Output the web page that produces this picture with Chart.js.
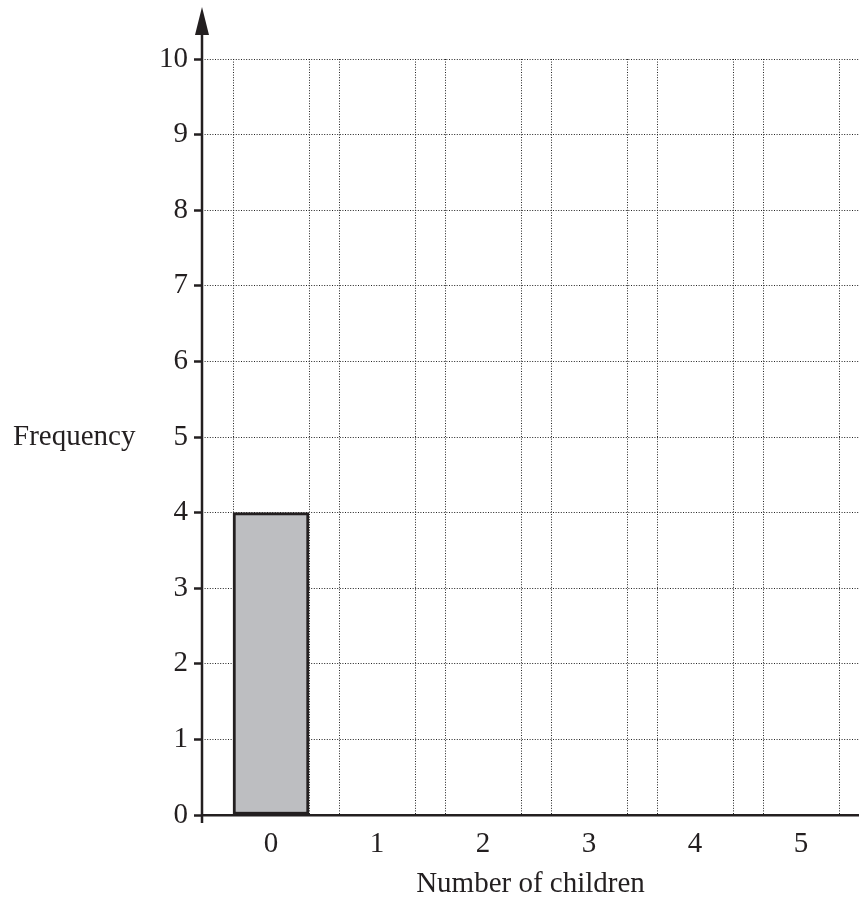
<!DOCTYPE html>
<html lang="en">
<head>
<meta charset="UTF-8">
<title>Number of children</title>
<script src="https://cdn.jsdelivr.net/npm/chart.js@4.4.1/dist/chart.umd.min.js"></script>
<style>
  body { margin: 0; background: #fff; }
  .wrapper { width: 859px; height: 903px; position: relative; }
</style>
</head>
<body>
<div class="wrapper">
  <canvas id="myChart"></canvas>
</div>
<script>
// data
const categories = [0, 1, 2, 3, 4, 5];
const frequency = [4, 0, 0, 0, 0, 0];
const yTicks = [0, 1, 2, 3, 4, 5, 6, 7, 8, 9, 10];
const xTitle = 'Number of children';
const yTitle = 'Frequency';

const ink = '#231f20';
const dots = '#222222';
const font = { family: '"Liberation Serif", "Times New Roman", serif', size: 29 };
const barFrac = 0.717; // bar width as share of one category

// tick positions: category centres (labels) and bar edges (dotted lines)
const xTickValues = [];
categories.forEach(function (c) {
  xTickValues.push(c - barFrac / 2, c, c + barFrac / 2);
});

const axisPlugin = {
  id: 'axisDecor',
  afterDatasetsDraw: function (chart) {
    const ctx = chart.ctx;
    const area = chart.chartArea;
    const y = chart.scales.y;
    const x0 = area.left;
    ctx.save();
    // vertical axis with arrow head
    ctx.strokeStyle = ink;
    ctx.lineWidth = 2.5;
    ctx.beginPath();
    ctx.moveTo(x0, y.getPixelForValue(0) + 8);
    ctx.lineTo(x0, area.top - 26);
    ctx.stroke();
    ctx.fillStyle = ink;
    ctx.beginPath();
    ctx.moveTo(x0, area.top - 52);
    ctx.lineTo(x0 - 7, area.top - 24);
    ctx.lineTo(x0 + 7, area.top - 24);
    ctx.closePath();
    ctx.fill();
    // horizontal y title
    ctx.font = font.size + 'px ' + font.family;
    ctx.textAlign = 'left';
    ctx.textBaseline = 'middle';
    ctx.fillText(yTitle, 13, y.getPixelForValue(5));
    ctx.restore();
  }
};

const ctx = document.getElementById('myChart').getContext('2d');
const chart = new Chart(ctx, {
  type: 'bar',
  data: {
    datasets: [{
      label: yTitle,
      data: categories.map(function (c, i) { return { x: c, y: frequency[i] }; }),
      backgroundColor: '#bdbec1',
      borderColor: ink,
      borderWidth: 3,
      borderSkipped: false,
      barThickness: 76
    }]
  },
  plugins: [axisPlugin],
  options: {
    responsive: true,
    maintainAspectRatio: false,
    animation: false,
    layout: { padding: { top: 59, left: 0, right: 0, bottom: 0 } },
    plugins: {
      legend: { display: false },
      tooltip: { enabled: false }
    },
    scales: {
      x: {
        type: 'linear',
        offset: false,
        min: -0.651,
        max: 5.547,
        afterBuildTicks: function (scale) {
          scale.ticks = xTickValues.map(function (v) { return { value: v }; });
        },
        afterFit: function (scale) { scale.height = 88; },
        grid: {
          offset: false,
          drawTicks: false,
          lineWidth: 1,
          color: function (c) {
            if (!c.tick) return dots;
            return Number.isInteger(c.tick.value) ? 'rgba(0,0,0,0)' : dots;
          }
        },
        border: { display: true, color: ink, width: 2.5, dash: [1, 1.6] },
        ticks: {
          autoSkip: false,
          maxRotation: 0,
          padding: 12,
          color: ink,
          font: font,
          callback: function (v) { return Number.isInteger(v) ? String(v) : ''; }
        },
        title: {
          display: true,
          text: xTitle,
          color: ink,
          font: font,
          padding: { top: 0, bottom: 1 }
        }
      },
      y: {
        min: 0,
        max: 10,
        afterBuildTicks: function (scale) {
          scale.ticks = yTicks.map(function (v) { return { value: v }; });
        },
        afterFit: function (scale) { scale.width = 202; },
        grid: {
          color: dots,
          lineWidth: 1,
          tickLength: 8,
          tickColor: ink,
          tickWidth: 2.5,
          tickBorderDash: []
        },
        border: { display: false, dash: [1, 1.6] },
        ticks: {
          padding: 6,
          color: ink,
          font: font
        }
      }
    }
  }
});
</script>
</body>
</html>
